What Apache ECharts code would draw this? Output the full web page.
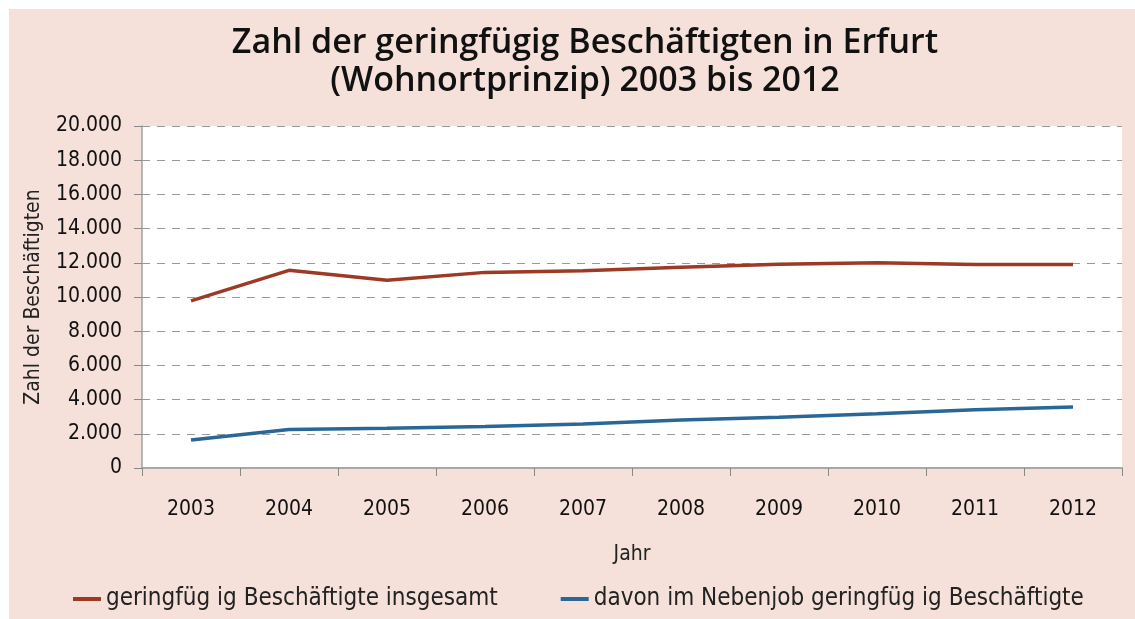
<!DOCTYPE html>
<html>
<head>
<meta charset="utf-8">
<script src="https://cdn.jsdelivr.net/npm/echarts@6/dist/echarts.min.js"></script>
<style>
html,body{margin:0;padding:0;background:#ffffff;}
#c{width:1135px;height:619px;}
</style>
</head>
<body>
<div id="c"></div>
<script>
const years = ['2003','2004','2005','2006','2007','2008','2009','2010','2011','2012'];
const insgesamt = [9770, 11560, 10980, 11440, 11540, 11740, 11920, 12000, 11900, 11900];
const nebenjob = [1640, 2250, 2330, 2430, 2580, 2810, 2970, 3170, 3400, 3560];
const seriesNames = ['geringfüg ig Beschäftigte insgesamt', 'davon im Nebenjob geringfüg ig Beschäftigte'];
const titleText = 'Zahl der geringfügig Beschäftigten in Erfurt\n(Wohnortprinzip) 2003 bis 2012';
const yAxisName = 'Zahl der Beschäftigten';
const xAxisName = 'Jahr';

const narrow = '"DejaVu Sans Condensed", "Liberation Sans Narrow", sans-serif';
const chart = echarts.init(document.getElementById('c'), null, {renderer: 'canvas'});
function fmt(v){ return String(v).replace(/\B(?=(\d{3})+(?!\d))/g, '.'); }
chart.setOption({
  backgroundColor: '#ffffff',
  animation: false,
  graphic: [{
    type: 'rect', z: -10, silent: true,
    shape: {x: 9, y: 9, width: 1126, height: 610},
    style: {fill: '#F5E1D9'}
  }],
  title: {
    text: titleText,
    left: 580, top: 19, textAlign: 'center',
    textStyle: {fontFamily: '"Open Sans", sans-serif', fontWeight: 600, fontSize: 34, lineHeight: 38, color: '#111'}
  },
  legend: {
    left: 73, top: 587, padding: 0,
    icon: 'rect', itemWidth: 28, itemHeight: 4, itemGap: 63,
    textStyle: {fontFamily: narrow, fontSize: 24, color: '#222'},
    data: seriesNames
  },
  grid: {left: 142, right: 13, top: 126, bottom: 151, show: true, backgroundColor: '#ffffff', borderWidth: 0},
  xAxis: {
    type: 'category', data: years, boundaryGap: true,
    name: xAxisName, nameLocation: 'middle', nameGap: 76,
    nameTextStyle: {fontFamily: narrow, fontSize: 21, color: '#222'},
    axisLine: {lineStyle: {color: '#A8A8A8', width: 2}},
    axisTick: {show: true, length: 8, lineStyle: {color: '#888', width: 1}},
    axisLabel: {fontFamily: narrow, fontSize: 21, color: '#111', margin: 31}
  },
  yAxis: {
    type: 'value', min: 0, max: 20000, interval: 2000,
    name: yAxisName, nameLocation: 'middle', nameGap: 98, nameRotate: 90,
    nameTextStyle: {fontFamily: narrow, fontSize: 21, color: '#222'},
    axisLine: {show: true, lineStyle: {color: '#A0A0A0', width: 1.5}},
    axisTick: {show: true, length: 8, lineStyle: {color: '#888'}},
    axisLabel: {fontFamily: narrow, fontSize: 21, color: '#111', margin: 20, formatter: fmt},
    splitLine: {show: true, lineStyle: {color: '#999', type: [8, 7], width: 1.2}}
  },
  series: [
    {name: seriesNames[0], type: 'line', data: insgesamt, showSymbol: false, symbol: 'none',
     lineStyle: {color: '#9C3A25', width: 3.5}, itemStyle: {color: '#9C3A25'}},
    {name: seriesNames[1], type: 'line', data: nebenjob, showSymbol: false, symbol: 'none',
     lineStyle: {color: '#2A6796', width: 3.5}, itemStyle: {color: '#2A6796'}}
  ]
});
</script>
</body>
</html>
